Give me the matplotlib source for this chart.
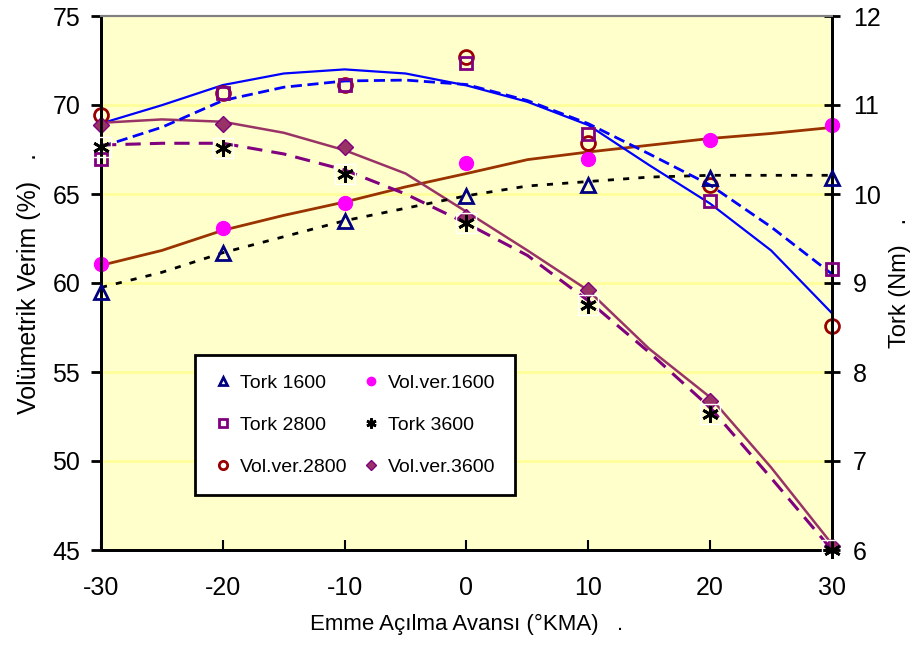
import matplotlib
matplotlib.use("Agg")
import matplotlib.pyplot as plt

plt.rcParams['font.family'] = ['Liberation Sans', 'DejaVu Sans']
plt.rcParams['axes.unicode_minus'] = False

# crank angle (deg KMA)
x = [-30, -20, -10, 0, 10, 20, 30]

# measured points
tork_1600 = [8.90, 9.34, 9.70, 9.98, 10.10, 10.18, 10.18]
tork_2800 = [10.39, 11.14, 11.22, 11.47, 10.67, 9.92, 9.16]
tork_3600 = [10.53, 10.52, 10.23, 9.67, 8.75, 7.53, 6.00]
vol_1600 = [61.08, 63.09, 64.52, 66.74, 66.99, 68.02, 68.87]
vol_2800 = [69.43, 70.70, 71.12, 72.71, 67.84, 65.49, 57.61]
vol_3600 = [68.90, 68.96, 67.65, 63.71, 59.58, 53.39, 45.23]

# trend lines
x_trend = [-30, -25, -20, -15, -10, -5, 0, 5, 10, 15, 20, 25, 30]
tr_tork_1600 = [8.95, 9.12, 9.34, 9.52, 9.70, 9.84, 9.98, 10.09, 10.14, 10.19, 10.21, 10.21, 10.21]
tr_tork_2800 = [10.53, 10.75, 11.05, 11.20, 11.27, 11.28, 11.23, 11.05, 10.79, 10.45, 10.10, 9.63, 9.10]
tr_tork_3600 = [10.55, 10.57, 10.57, 10.45, 10.27, 10.00, 9.67, 9.31, 8.80, 8.22, 7.60, 6.81, 6.00]
tr_vol_1600 = [60.99, 61.83, 62.96, 63.80, 64.55, 65.40, 66.15, 66.93, 67.36, 67.74, 68.12, 68.40, 68.74]
tr_vol_2800 = [68.96, 69.99, 71.12, 71.77, 72.00, 71.77, 71.10, 70.18, 68.87, 66.62, 64.46, 61.83, 58.30]
tr_vol_3600 = [69.00, 69.19, 69.06, 68.44, 67.46, 66.15, 64.00, 61.83, 59.58, 56.30, 53.58, 49.64, 45.33]

x_ticks = [-30, -20, -10, 0, 10, 20, 30]
left_ticks = [45, 50, 55, 60, 65, 70, 75]
right_ticks = [6, 7, 8, 9, 10, 11, 12]

fig = plt.figure(figsize=(9.23, 6.53), dpi=100)
ax = fig.add_axes([101 / 923, 103 / 653, 731 / 923, 534 / 653])
ax.set_facecolor('#FFFFCC')
ax2 = ax.twinx()

ax.set_xlim(-30, 30)
ax.set_ylim(45, 75)
ax2.set_ylim(6, 12)

# grid
for v in left_ticks[1:-1]:
    ax.axhline(v, color='#FFFF99', lw=2, zorder=0)

# trend lines
ax.plot(x_trend, tr_vol_1600, color='#993300', lw=2, zorder=2)
ax.plot(x_trend, tr_vol_2800, color='#0000FF', lw=1.6, zorder=2)
ax.plot(x_trend, tr_vol_3600, color='#993366', lw=1.8, zorder=2)
ax2.plot(x_trend, tr_tork_1600, color='black', lw=2, dashes=(2.2, 3.3), zorder=2)
ax2.plot(x_trend, tr_tork_2800, color='#0000FF', lw=2, dashes=(4, 2), zorder=2)
ax2.plot(x_trend, tr_tork_3600, color='#800080', lw=2.2, dashes=(5, 3), zorder=2)

# points
h_v1600, = ax.plot(x, vol_1600, 'o', ms=10, mfc='#FF00FF', mec='#FF00FF', ls='none', clip_on=False, zorder=3)
h_v2800, = ax.plot(x, vol_2800, 'o', ms=10, mfc='none', mec='#990000', mew=2, ls='none', clip_on=False, zorder=3)
h_v3600, = ax.plot(x, vol_3600, 'D', ms=8, mfc='#993366', mec='#800080', mew=1, ls='none', clip_on=False, zorder=3)
h_t1600, = ax2.plot(x, tork_1600, '^', ms=10, mfc='none', mec='#000080', mew=2, ls='none', clip_on=False, zorder=3)
h_t2800, = ax2.plot(x, tork_2800, 's', ms=9, mfc='none', mec='#800080', mew=2, ls='none', clip_on=False, zorder=3)
ax2.plot(x, tork_3600, 's', ms=14, mfc='none', mec='white', mew=1, ls='none', clip_on=False, zorder=3)
h_t3600, = ax2.plot(x, tork_3600, marker=(6, 2, 0), ms=12, color='black', mew=2, ls='none', clip_on=False, zorder=3)

# axes styling
for a in (ax, ax2):
    a.spines['top'].set_color('#808080')
    a.spines['top'].set_linewidth(1.5)
    for s in ('left', 'right', 'bottom'):
        a.spines[s].set_color('black')
        a.spines[s].set_linewidth(2)

ax.set_xticks(x_ticks)
ax.set_yticks(left_ticks)
ax2.set_yticks(right_ticks)
ax.tick_params(axis='x', direction='in', length=7, width=1.5, labelsize=18, pad=19)
ax.tick_params(axis='y', direction='out', length=7, width=2, labelsize=18, pad=8)
ax2.tick_params(axis='y', direction='inout', length=12, width=2, labelsize=18, pad=9)

ax.set_xlabel('Emme Açılma Avansı (°KMA)   .', fontsize=16, labelpad=10)
ax.set_ylabel('Volümetrik Verim (%)   .', fontsize=18, labelpad=8)
ax2.set_ylabel('Tork (Nm)   .', fontsize=17, labelpad=6, rotation=90)

handles = [h_t1600, h_t2800, h_v2800, h_v1600, h_t3600, h_v3600]
labels = ['Tork 1600', 'Tork 2800', 'Vol.ver.2800', 'Vol.ver.1600', 'Tork 3600', 'Vol.ver.3600']
leg = ax2.legend(handles, labels, ncol=2, loc='lower left', bbox_to_anchor=(0.129, 0.103),
                 fontsize=14, frameon=True, fancybox=False, framealpha=1,
                 edgecolor='black', handlelength=0.8, handletextpad=0.5, labelspacing=1.25,
                 borderpad=1.0, markerscale=0.6, columnspacing=0.8, borderaxespad=0)
leg.get_frame().set_linewidth(2)

fig.savefig('out.png', dpi=100)
